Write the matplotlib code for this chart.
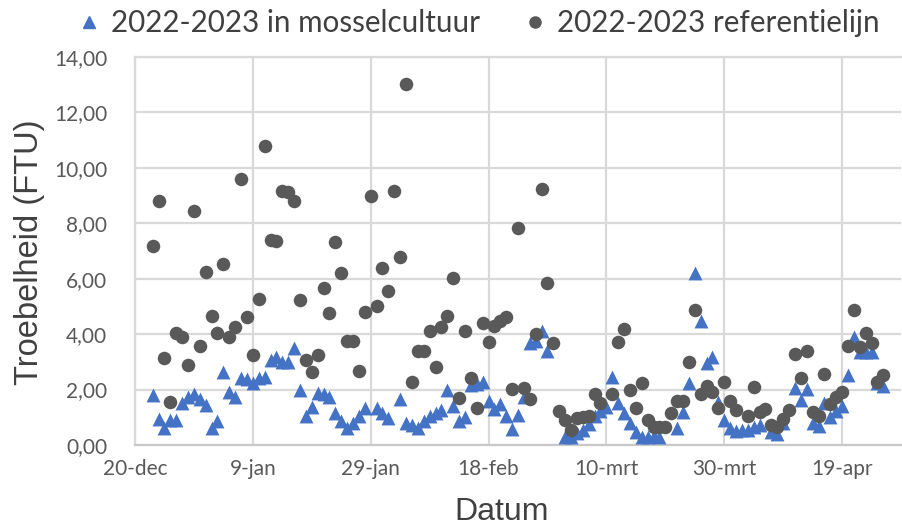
import numpy as np
import matplotlib
matplotlib.use("Agg")
import matplotlib.pyplot as plt
from matplotlib.lines import Line2D
from matplotlib.ticker import FuncFormatter, MultipleLocator

# Start of the measuring period; measurements are stored as day offsets from it
start_date = np.datetime64("2022-12-20")

# Turbidity in the mussel culture (FTU)
mossel_days = [3, 4, 5, 6, 7, 8, 9, 10, 11, 12, 13, 14, 15, 16, 17, 18, 19, 20, 21, 22,
               23, 24, 25, 26, 27, 28, 29, 30, 31, 32, 33, 34, 35, 36, 37, 38, 39, 41, 42, 43,
               45, 46, 47, 48, 49, 50, 51, 52, 53, 54, 55, 56, 57, 58, 59, 60, 61, 62, 63, 64,
               65, 66, 67, 68, 69, 70, 73, 74, 75, 76, 77, 78, 79, 80, 81, 82, 83, 84, 85, 86,
               87, 88, 89, 92, 93, 94, 95, 96, 97, 98, 99, 100, 101, 102, 103, 104, 105, 106, 108, 109,
               110, 112, 113, 114, 115, 116, 117, 118, 119, 120, 121, 122, 123, 124, 125, 126, 127]
mossel_ftu = [1.80, 0.93, 0.60, 0.90, 0.90, 1.53, 1.74, 1.83, 1.65, 1.45, 0.63, 0.87, 2.65, 1.90, 1.72, 2.41, 2.38, 2.25, 2.41, 2.47,
              3.05, 3.19, 3.00, 3.00, 3.49, 2.00, 1.05, 1.38, 1.87, 1.83, 1.74, 1.14, 0.87, 0.60, 0.78, 1.05, 1.35, 1.35, 1.14, 0.99,
              1.65, 0.78, 0.72, 0.63, 0.87, 1.05, 1.14, 1.26, 1.98, 1.41, 0.87, 1.00, 2.17, 2.20, 2.28, 1.60, 1.30, 1.47, 1.05, 0.57,
              1.08, 1.74, 3.67, 3.76, 4.12, 3.40, 0.30, 0.30, 0.45, 0.54, 0.75, 1.05, 1.23, 1.38, 2.44, 1.53, 1.17, 0.78, 0.48, 0.30,
              0.30, 0.32, 0.30, 0.60, 1.20, 2.23, 6.20, 4.47, 2.97, 3.16, 1.55, 0.90, 0.63, 0.50, 0.54, 0.54, 0.66, 0.72, 0.48, 0.40,
              0.78, 2.05, 1.62, 2.02, 0.78, 0.69, 1.53, 1.00, 1.23, 1.41, 2.53, 3.88, 3.34, 3.35, 3.37, 2.25, 2.13]

# Turbidity at the reference line (FTU)
ref_days = [3, 4, 5, 6, 7, 8, 9, 10, 11, 12, 13, 14, 15, 16, 17, 18, 19, 20, 21, 22,
            23, 24, 25, 26, 27, 28, 29, 30, 31, 32, 33, 34, 35, 36, 37, 38, 39, 40, 41, 42,
            43, 44, 45, 46, 47, 48, 49, 50, 51, 52, 53, 54, 55, 56, 57, 58, 59, 60, 61, 62,
            63, 64, 65, 66, 67, 68, 69, 70, 71, 72, 73, 74, 75, 76, 77, 78, 79, 81, 82, 83,
            84, 85, 86, 87, 88, 89, 90, 91, 92, 93, 94, 95, 96, 97, 98, 99, 100, 101, 102, 104,
            105, 106, 107, 108, 109, 110, 111, 112, 113, 114, 115, 116, 117, 118, 119, 120, 121, 122, 123, 124,
            125, 126, 127]
ref_ftu = [7.19, 8.79, 3.15, 1.54, 4.03, 3.89, 2.89, 8.46, 3.58, 6.24, 4.67, 4.03, 6.54, 3.89, 4.25, 9.60, 4.63, 3.25, 5.27, 10.80,
           7.40, 7.36, 9.17, 9.12, 8.82, 5.23, 3.07, 2.62, 3.25, 5.68, 4.75, 7.34, 6.22, 3.75, 3.75, 2.67, 4.79, 8.99, 5.02, 6.40,
           5.56, 9.17, 6.80, 13.03, 2.26, 3.39, 3.39, 4.11, 2.83, 4.27, 4.67, 6.02, 1.71, 4.12, 2.41, 1.32, 4.41, 3.73, 4.31, 4.47,
           4.63, 2.02, 7.82, 2.07, 1.66, 4.00, 9.23, 5.83, 3.67, 1.24, 0.90, 0.54, 0.98, 1.00, 1.05, 1.83, 1.50, 1.85, 3.71, 4.17,
           1.98, 1.32, 2.25, 0.90, 0.66, 0.66, 0.66, 1.17, 1.60, 1.60, 3.01, 4.87, 1.83, 2.13, 1.92, 1.35, 2.28, 1.57, 1.26, 1.05,
           2.08, 1.20, 1.29, 0.72, 0.66, 0.93, 1.26, 3.28, 2.41, 3.39, 1.20, 1.05, 2.56, 1.47, 1.74, 1.90, 3.57, 4.87, 3.55, 4.03,
           3.67, 2.28, 2.53]

tick_days = [0, 20, 40, 60, 80, 100, 120]
tick_labels = ["20-dec", "9-jan", "29-jan", "18-feb", "10-mrt", "30-mrt", "19-apr"]
legend_labels = ["2022-2023 in mosselcultuur", "2022-2023 referentielijn"]

BLUE = "#4472c4"
GREY = "#595959"
GRID = "#d9d9d9"
TEXT = "#595959"
narrow = ["Lato", "DejaVu Sans"]
plain = ["Liberation Sans", "DejaVu Sans"]


def to_dates(days):
    return start_date + np.array(days, dtype="timedelta64[D]")


fig = plt.figure(figsize=(9.02, 5.29), dpi=100)
W, H = 902, 529
ax = fig.add_axes([135 / W, 1 - 445 / H, (901 - 135) / W, (445 - 57) / H])

ax.scatter(to_dates(mossel_days), mossel_ftu, marker="^", s=100, color=BLUE,
           linewidths=0, zorder=3)
ax.scatter(to_dates(ref_days), ref_ftu, marker="o", s=95, color=GREY,
           linewidths=0, zorder=4)

ax.set_xlim(to_dates([0])[0], start_date + np.timedelta64(130, "D"))
ax.set_ylim(0, 14)
ax.yaxis.set_major_locator(MultipleLocator(2))
ax.yaxis.set_major_formatter(FuncFormatter(lambda v, _: f"{v:.2f}".replace(".", ",")))
ax.set_xticks(to_dates(tick_days))
ax.set_xticklabels(tick_labels)

ax.grid(True, color=GRID, linewidth=1.6, zorder=0)
ax.set_axisbelow(True)
ax.spines["right"].set_visible(False)
for side in ["left", "bottom", "top"]:
    ax.spines[side].set_color(GRID)
    ax.spines[side].set_linewidth(1.6)
ax.spines["bottom"].set_color("#c8c8c8")

ax.tick_params(axis="both", length=0, labelcolor=TEXT, labelsize=15)
ax.tick_params(axis="y", pad=20)
ax.tick_params(axis="x", pad=10)
for lab in ax.get_xticklabels() + ax.get_yticklabels():
    lab.set_family(narrow)

fig.text(30 / W, 1 - 252 / H, "Troebelheid (FTU)", rotation=90, ha="center",
         va="center", fontsize=23.5, color="#404040", family=plain)
fig.text(502 / W, 1 - 512 / H, "Datum", ha="center", va="center",
         fontsize=23, color="#404040", family=plain)

handles = [
    Line2D([], [], linestyle="none", marker="^", markersize=9, color=BLUE),
    Line2D([], [], linestyle="none", marker="o", markersize=8, color=GREY),
]
fig.legend(handles, legend_labels, loc="center left", bbox_to_anchor=(77 / W, 1 - 23 / H),
           ncol=2, frameon=False, prop={"family": narrow, "size": 21.3},
           handletextpad=0.35, columnspacing=1.45, handlelength=0.8,
           labelcolor="#404040", borderaxespad=0, borderpad=0)

fig.savefig("out.png", dpi=100, facecolor="white")
